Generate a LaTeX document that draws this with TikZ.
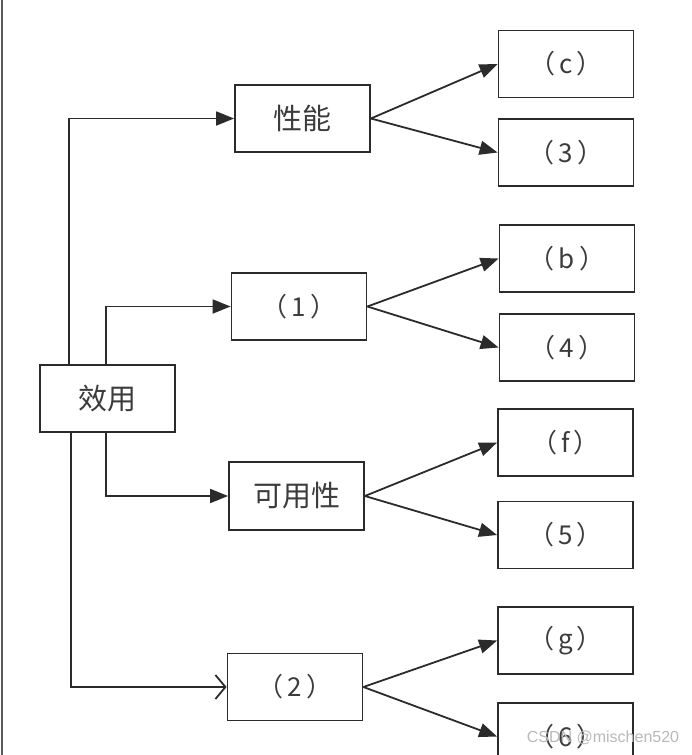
\documentclass[tikz,border=0pt]{standalone}
\usepackage{fontspec}
\newfontfamily\cjk{Noto Sans CJK SC}
\newfontfamily\wmfont{Liberation Sans}
\usetikzlibrary{arrows.meta}
\definecolor{ink}{HTML}{2B2B2B}
\definecolor{txt}{HTML}{3C3C3C}
\newcommand\plab[1]{（\hspace{4pt}#1\hspace{4pt}）}
\tikzset{
  box/.style={draw=ink, line width=1.8pt, minimum width=135pt, minimum height=67pt, inner sep=0pt, text=txt, font=\cjk\fontsize{26}{26}\selectfont},
  bigtxt/.style={font=\cjk\fontsize{29}{29}\selectfont},
  conn/.style={draw=ink, line width=1.8pt},
  solidarrow/.style={conn, -{Triangle[length=18pt,width=14pt]}},
  openarrow/.style={conn, -{Straight Barb[length=10pt,width=24pt,line width=1.8pt]}},
}
\begin{document}
\begin{tikzpicture}[x=1pt,y=-1pt]
\useasboundingbox (0,0) rectangle (692,755);
\clip (0,0) rectangle (692,755);
\fill[white] (0,0) rectangle (692,755);
\draw[gray!70!black, line width=2pt] (1.5,0) -- (1.5,755);
% nodes
\node[box, bigtxt] (xy) at (107.5,398.5) {效用};
\node[box, bigtxt] (xn) at (302.5,118.5) {性能};
\node[box] (n1) at (299,306.5) {\plab{1}};
\node[box, bigtxt, minimum height=68pt] (ky) at (296.5,496) {可用性};
\node[box] (n2) at (295,687) {\plab{2}};
\node[box] (c) at (566,64) {\plab{c}};
\node[box] (t3) at (566,152.5) {\plab{3}};
\node[box] (b) at (567,258.5) {\plab{b}};
\node[box] (t4) at (567,347.5) {\plab{4}};
\node[box] (f) at (565.5,442.5) {\plab{f}};
\node[box] (t5) at (565.5,535) {\plab{5}};
\node[box] (g) at (565.5,640.5) {\plab{g}};
\node[box] (t6) at (565.5,736.5) {\plab{6}};
% connectors from root
\draw[solidarrow] ([xshift=30pt]xy.north west) |- (xn.west);
\draw[solidarrow] ([xshift=67pt]xy.north west) |- (n1.west);
\draw[solidarrow] ([xshift=67pt]xy.south west) |- (ky.west);
\draw[openarrow] ([xshift=32pt]xy.south west) |- (n2.west);
% fan-out
\draw[solidarrow] (xn.east) -- (c.west);
\draw[solidarrow] (xn.east) -- (t3.west);
\draw[solidarrow] (n1.east) -- (b.west);
\draw[solidarrow] (n1.east) -- (t4.west);
\draw[solidarrow] (ky.east) -- (f.west);
\draw[solidarrow] (ky.east) -- (t5.west);
\draw[solidarrow] (n2.east) -- (g.west);
\draw[solidarrow] (n2.east) -- (t6.west);
% watermark
\node[text=gray!55, font=\wmfont\fontsize{16}{16}\selectfont, anchor=center] (wm) at (603,738) {CSDN @mischen520};
\end{tikzpicture}
\end{document}
